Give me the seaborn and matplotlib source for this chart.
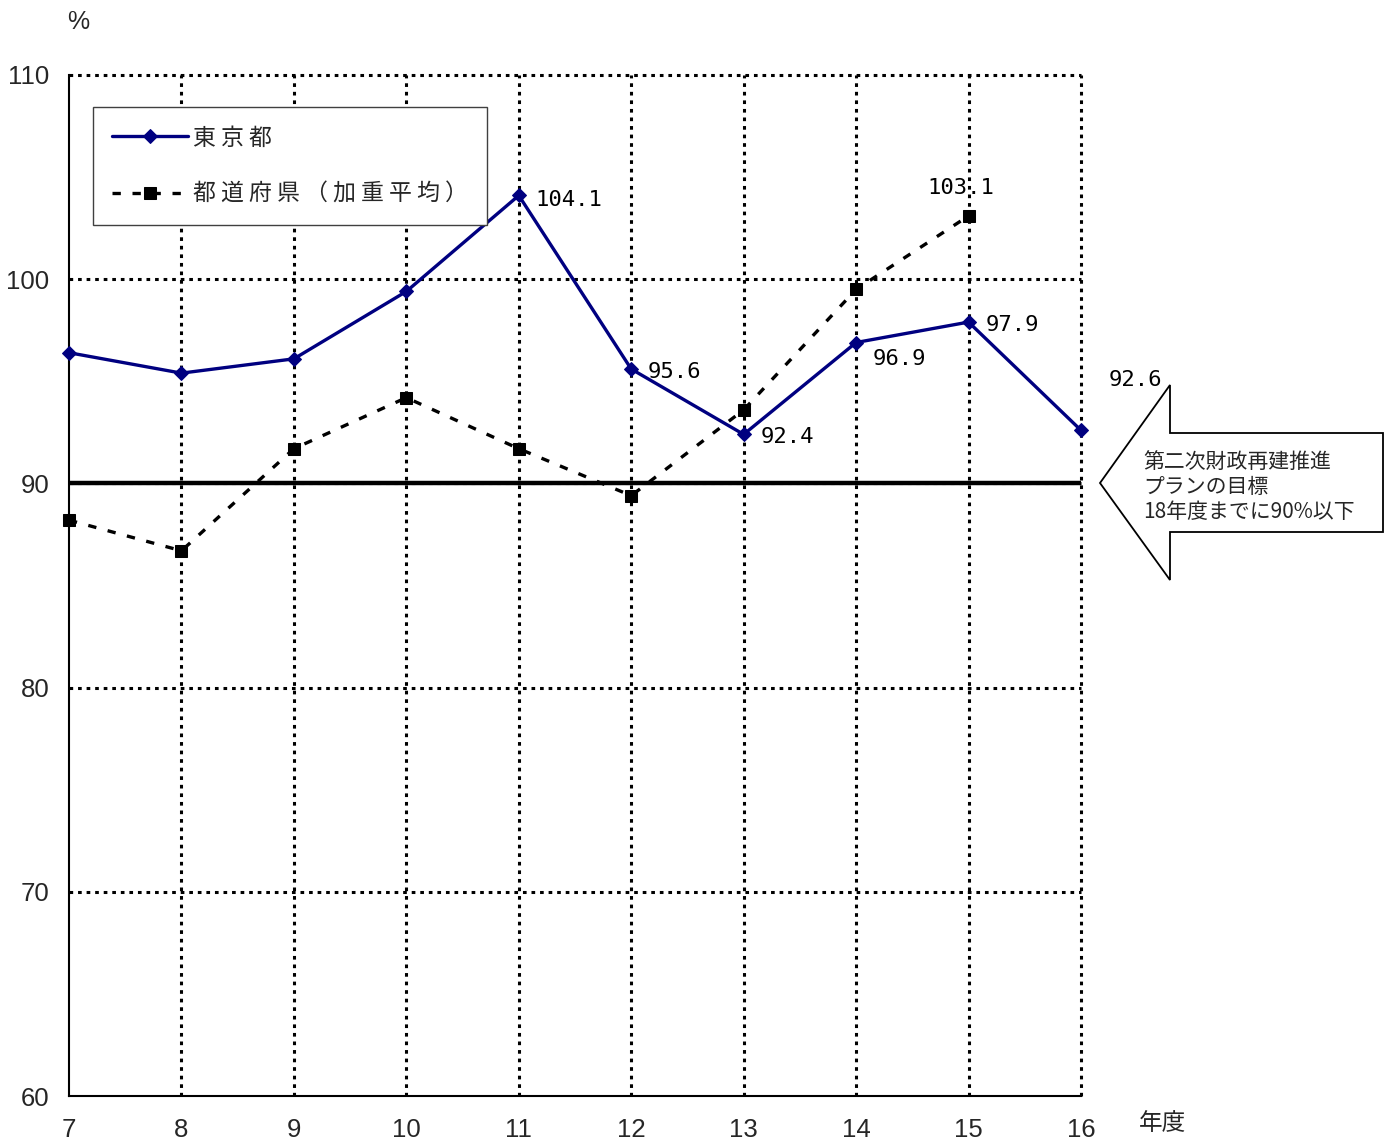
import matplotlib
matplotlib.use("Agg")
import matplotlib.pyplot as plt
from matplotlib.patches import Polygon
import seaborn as sns
import pandas as pd

# 経常収支比率の推移（年度）
years = [7, 8, 9, 10, 11, 12, 13, 14, 15, 16]
tokyo = [96.4, 95.4, 96.1, 99.4, 104.1, 95.6, 92.4, 96.9, 97.9, 92.6]
prefs = [88.2, 86.7, 91.7, 94.2, 91.7, 89.4, 93.6, 99.5, 103.1]
pref_years = years[:len(prefs)]
y_ticks = [60, 70, 80, 90, 100, 110]
target = 90

legend_tokyo = "東 京 都"
legend_prefs = "都 道 府 県 （ 加 重 平 均 ）"

df_t = pd.DataFrame({"year": years, "ratio": tokyo})
df_p = pd.DataFrame({"year": pref_years, "ratio": prefs})

sns.set_style("white")
plt.rcParams["font.family"] = ["Liberation Sans", "Noto Sans CJK JP", "DejaVu Sans"]

W, H = 1391, 1142
fig = plt.figure(figsize=(W / 100, H / 100), dpi=100)
ax = fig.add_axes([69 / W, 1 - 1096 / H, (1081 - 69) / W, (1096 - 75) / H])

dot = (0, (1.2, 1.6))
# grid lines (the ones at 16 and 110 also serve as the right/top frame)
for x in years[1:]:
    ax.axvline(x, color="black", lw=2.2, ls=dot, zorder=1, clip_on=False)
for y in y_ticks[1:]:
    ax.axhline(y, color="black", lw=2.2, ls=dot, zorder=1, clip_on=False)

# target line
ax.axhline(target, color="black", lw=3.2, zorder=2)

sns.lineplot(data=df_p, x="year", y="ratio", ax=ax, color="black", lw=2.4,
             linestyle=(0, (2.5, 3.5)), marker="s", markersize=8,
             markeredgecolor="black", label=legend_prefs, zorder=3, clip_on=False)
sns.lineplot(data=df_t, x="year", y="ratio", ax=ax, color="#000080", lw=2.4,
             marker="D", markersize=7, markeredgecolor="#000080",
             label=legend_tokyo, zorder=4, clip_on=False)

ax.set_xlim(7, 16)
ax.set_ylim(60, 110)
ax.set_xticks(years)
ax.set_yticks(y_ticks)
ax.set_xticklabels([str(v) for v in years], fontsize=18.5)
ax.set_yticklabels([str(v) for v in y_ticks], fontsize=18.5)
ax.tick_params(axis="x", direction="out", length=4, width=1.2, pad=12, color="black")
ax.tick_params(axis="y", direction="out", length=4, width=1.2, pad=10, color="black")
ax.set_xlabel("")
ax.set_ylabel("")

for side in ["left", "bottom"]:
    ax.spines[side].set_color("black")
    ax.spines[side].set_linewidth(1.5)
for side in ["top", "right"]:
    ax.spines[side].set_visible(False)

# value labels
lab = dict(fontsize=16, family="DejaVu Sans Mono", color="black", zorder=6)
ax.annotate("104.1", (11, 104.1), xytext=(12, -3), textcoords="offset points", va="center", ha="left", **lab)
ax.annotate("95.6", (12, 95.6), xytext=(12, -2), textcoords="offset points", va="center", ha="left", **lab)
ax.annotate("92.4", (13, 92.4), xytext=(12, -2), textcoords="offset points", va="center", ha="left", **lab)
ax.annotate("96.9", (14, 96.9), xytext=(12, -12), textcoords="offset points", va="center", ha="left", **lab)
ax.annotate("97.9", (15, 97.9), xytext=(12, -2), textcoords="offset points", va="center", ha="left", **lab)
ax.annotate("92.6", (16, 92.6), xytext=(20, 36), textcoords="offset points", va="center", ha="left", **lab)
ax.annotate("103.1", (15, 103.1), xytext=(-30, 20), textcoords="offset points", va="center", ha="left", **lab)

# legend: 東京都 first
handles, labels = ax.get_legend_handles_labels()
order = [labels.index(legend_tokyo), labels.index(legend_prefs)]
leg = ax.legend([handles[i] for i in order], [labels[i] for i in order],
                loc="upper left", bbox_to_anchor=((93 - 69) / 1012, 1 - (107 - 75) / 1021),
                frameon=True, fancybox=False, edgecolor="#404040", framealpha=1,
                prop={"family": ["Noto Sans CJK JP"], "size": 16.5},
                handlelength=3.3, handletextpad=0.2, borderpad=0.85, labelspacing=1.45,
                numpoints=1, borderaxespad=0)
leg.get_frame().set_linewidth(1.0)

# axis unit labels
fig.text(78 / W, 1 - 22 / H, "%", fontsize=18, ha="center", va="center")
fig.text(1163 / W, 1 - 1124 / H, "年度", fontsize=17, ha="center", va="center",
         family=["Noto Sans CJK JP"])

# target arrow callout
pts = [(1100, 483), (1170, 385), (1170, 433), (1383, 433), (1383, 532),
       (1170, 532), (1170, 580)]
arrow = Polygon([(x / W, 1 - y / H) for x, y in pts], closed=True,
                transform=fig.transFigure, facecolor="white", edgecolor="black",
                lw=1.3, zorder=5)
fig.patches.append(arrow)
fig.text(1143 / W, 1 - 487 / H, "第二次財政再建推進\nプランの目標\n18年度までに90%以下",
         fontsize=15, ha="left", va="center", linespacing=1.15,
         family=["Noto Sans CJK JP"], zorder=6)

fig.savefig("out.png", dpi=100)
